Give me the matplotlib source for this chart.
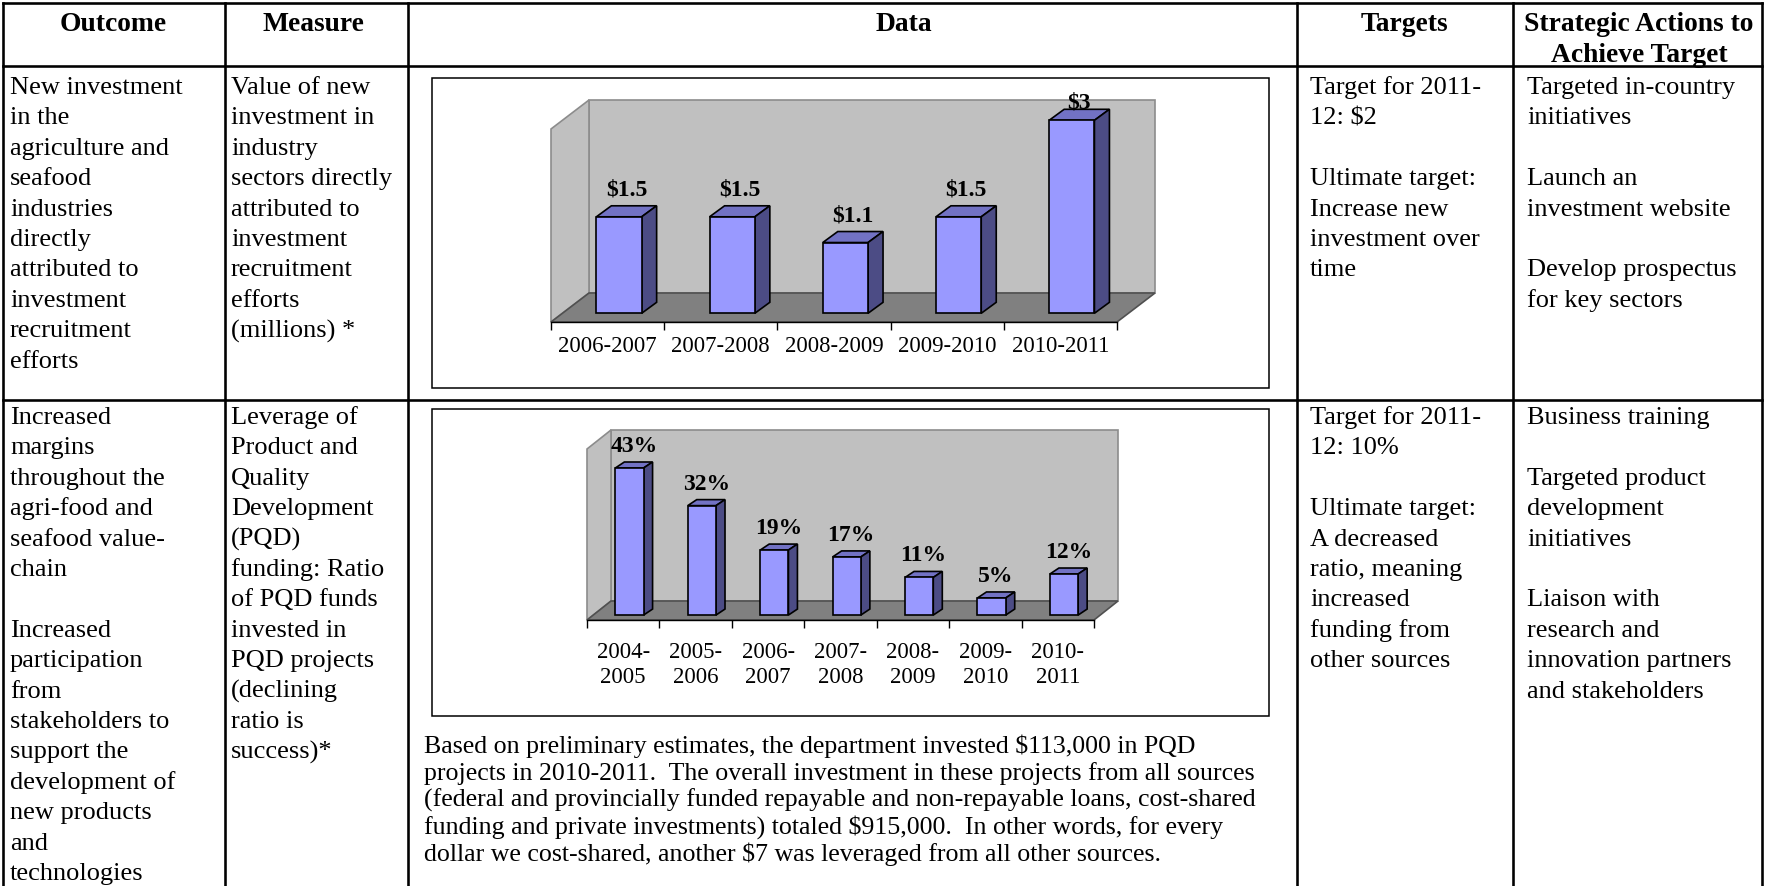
import numpy as np
import matplotlib.pyplot as plt
from matplotlib.patches import Polygon, Rectangle

plt.rcParams['font.family'] = ['Liberation Serif', 'DejaVu Serif']

W, H = 1766, 887
DPI = 100

# new investment (millions)
invest_years = ["2006-2007", "2007-2008", "2008-2009", "2009-2010", "2010-2011"]
invest_values = [1.5, 1.5, 1.1, 1.5, 3.0]
invest_labels = ["$1.5", "$1.5", "$1.1", "$1.5", "$3"]

# PQD leverage ratio (%)
pqd_years = ["2004-\n2005", "2005-\n2006", "2006-\n2007", "2007-\n2008",
             "2008-\n2009", "2009-\n2010", "2010-\n2011"]
pqd_values = [43, 32, 19, 17, 11, 5, 12]
pqd_labels = ["43%", "32%", "19%", "17%", "11%", "5%", "12%"]

headers = ["Outcome", "Measure", "Data", "Targets"]
header_actions = ["Strategic Actions to", "Achieve Target"]

outcome_1 = ["New investment", "in the", "agriculture and", "seafood", "industries",
             "directly", "attributed to", "investment", "recruitment", "efforts"]
measure_1 = ["Value of new", "investment in", "industry", "sectors directly",
             "attributed to", "investment", "recruitment", "efforts", "(millions) *"]
targets_1 = ["Target for 2011-", "12: $2", "", "Ultimate target:", "Increase new",
             "investment over", "time"]
actions_1 = ["Targeted in-country", "initiatives", "", "Launch an", "investment website",
             "", "Develop prospectus", "for key sectors"]

outcome_2 = ["Increased", "margins", "throughout the", "agri-food and", "seafood value-",
             "chain", "", "Increased", "participation", "from", "stakeholders to",
             "support the", "development of", "new products", "and", "technologies"]
measure_2 = ["Leverage of", "Product and", "Quality", "Development", "(PQD)",
             "funding: Ratio", "of PQD funds", "invested in", "PQD projects",
             "(declining", "ratio is", "success)*"]
targets_2 = ["Target for 2011-", "12: 10%", "", "Ultimate target:", "A decreased",
             "ratio, meaning", "increased", "funding from", "other sources"]
actions_2 = ["Business training", "", "Targeted product", "development", "initiatives",
             "", "Liaison with", "research and", "innovation partners", "and stakeholders"]

pqd_note = [
    "Based on preliminary estimates, the department invested $113,000 in PQD",
    "projects in 2010-2011.  The overall investment in these projects from all sources",
    "(federal and provincially funded repayable and non-repayable loans, cost-shared",
    "funding and private investments) totaled $915,000.  In other words, for every",
    "dollar we cost-shared, another $7 was leveraged from all other sources.",
]

BODY = 19.0
HEAD = 19.8
NOTE = 18.6
TICK = 16.4
VALUE = 17
LINE = 30.4

fig = plt.figure(figsize=(W / DPI, H / DPI), dpi=DPI)
ax = fig.add_axes([0, 0, 1, 1])
ax.set_xlim(0, W)
ax.set_ylim(H, 0)
ax.axis("off")


def px_axes(left, top, right, bottom):
    return fig.add_axes([left / W, 1 - bottom / H, (right - left) / W, (bottom - top) / H])


def write_lines(x, y0, lines, size=BODY, weight="normal", ha="left", step=LINE):
    for k, s in enumerate(lines):
        if s:
            ax.text(x, y0 + k * step, s, fontsize=size, fontweight=weight, ha=ha,
                    va="baseline", parse_math=False)


def bar3d_chart(frame, cats, values, labels, ymax, depth, bar_front, bar_depth,
                bar_width, label_gap, tick_pad, linespacing=1.2):
    left, top, right, bottom = frame
    cax = px_axes(left, top, right, bottom)
    cax.patch.set_visible(False)
    n = len(cats)
    cax.set_xlim(-0.5, n - 0.5)
    cax.set_ylim(0, ymax)
    ux = n / (right - left)
    uy = ymax / (bottom - top)
    Dx, Dy = depth[0] * ux, depth[1] * uy
    x0, x1 = -0.5, n - 0.5

    # walls and floor
    cax.add_patch(Polygon([(x0 + Dx, Dy), (x1 + Dx, Dy), (x1 + Dx, ymax + Dy), (x0 + Dx, ymax + Dy)],
                          fc="#C0C0C0", ec="#8C8C8C", lw=1.2, clip_on=False, zorder=1))
    cax.add_patch(Polygon([(x0, 0), (x0 + Dx, Dy), (x0 + Dx, ymax + Dy), (x0, ymax)],
                          fc="#C0C0C0", ec="#8C8C8C", lw=1.2, clip_on=False, zorder=1))
    cax.add_patch(Polygon([(x0, 0), (x1, 0), (x1 + Dx, Dy), (x0 + Dx, Dy)],
                          fc="#808080", ec="#505050", lw=1.2, clip_on=False, zorder=2))

    fx, fy = bar_front * Dx, bar_front * Dy
    bdx, bdy = bar_depth[0] * ux, bar_depth[1] * uy
    xs = np.arange(n) + fx
    w = bar_width
    cax.bar(xs, values, width=w, bottom=fy, color="#9999FF", edgecolor="black",
            lw=1.2, zorder=5, clip_on=False)
    label_cap = ymax + Dy - 7 * uy
    for x, v, lab in zip(xs, values, labels):
        cax.add_patch(Polygon([(x - w / 2, fy + v), (x + w / 2, fy + v),
                               (x + w / 2 + bdx, fy + v + bdy), (x - w / 2 + bdx, fy + v + bdy)],
                              fc="#7272C4", ec="black", lw=1.2, clip_on=False, zorder=4))
        cax.add_patch(Polygon([(x + w / 2, fy), (x + w / 2, fy + v),
                               (x + w / 2 + bdx, fy + v + bdy), (x + w / 2 + bdx, fy + bdy)],
                              fc="#4C4C85", ec="black", lw=1.2, clip_on=False, zorder=4))
        # value label sits above the bar, kept inside the chart area
        ly = min(fy + v + bdy + label_gap * uy, label_cap)
        cax.text(x + bdx / 2, ly, lab, ha="center", va="baseline", fontsize=VALUE,
                 fontweight="bold", clip_on=False, parse_math=False, zorder=6)

    # category axis along the front edge of the floor
    for side in ["left", "right", "top"]:
        cax.spines[side].set_visible(False)
    cax.spines["bottom"].set_color("black")
    cax.spines["bottom"].set_linewidth(1)
    cax.set_yticks([])
    cax.set_xticks(np.arange(n + 1) - 0.5)
    cax.set_xticklabels([])
    cax.tick_params(axis="x", which="major", length=8 * 72 / DPI, width=1, direction="out")
    cax.set_xticks(np.arange(n), minor=True)
    cax.set_xticklabels(cats, minor=True, fontsize=TICK, linespacing=linespacing)
    cax.tick_params(axis="x", which="minor", length=0, pad=tick_pad * 72 / DPI)
    return cax


# table grid
cols = [3, 225, 408, 1297, 1513, 1762]
rows = [4, 67, 401]
LW = 2.6 * 72 / DPI
for x in cols:
    ax.plot([x, x], [rows[0], H], color="black", lw=LW, solid_capstyle="projecting")
for y in rows:
    ax.plot([cols[0], cols[-1]], [y, y], color="black", lw=LW, solid_capstyle="projecting")

# header row
header_x = [113, 313, 904, 1404]
for x, s in zip(header_x, headers):
    write_lines(x, 31, [s], size=HEAD, weight="bold", ha="center")
write_lines(1639, 31, header_actions, size=HEAD, weight="bold", ha="center", step=31)

# row 1 text
write_lines(10, 94, outcome_1)
write_lines(231, 94, measure_1)
write_lines(1310, 94, targets_1)
write_lines(1527, 94, actions_1)

# row 2 text
write_lines(10, 424, outcome_2)
write_lines(231, 424, measure_2)
write_lines(1310, 424, targets_2)
write_lines(1527, 424, actions_2)
write_lines(424, 753, pqd_note, size=NOTE, step=27)

# chart frames
for (l, t, r, b) in [(432, 79, 1269, 389), (432, 410, 1269, 717)]:
    ax.add_patch(Rectangle((l, t), r - l, b - t, fill=False, ec="black", lw=1.1))

bar3d_chart((551, 130, 1117, 323), invest_years, invest_values, invest_labels,
            ymax=3.0, depth=(38, 29), bar_front=0.3, bar_depth=(15, 11),
            bar_width=0.4, label_gap=11, tick_pad=13)
bar3d_chart((587, 450, 1094, 621), pqd_years, pqd_values, pqd_labels,
            ymax=50, depth=(24, 19), bar_front=0.26, bar_depth=(9, 6),
            bar_width=0.39, label_gap=11, tick_pad=21, linespacing=1.25)

fig.savefig("out.png", dpi=DPI)
